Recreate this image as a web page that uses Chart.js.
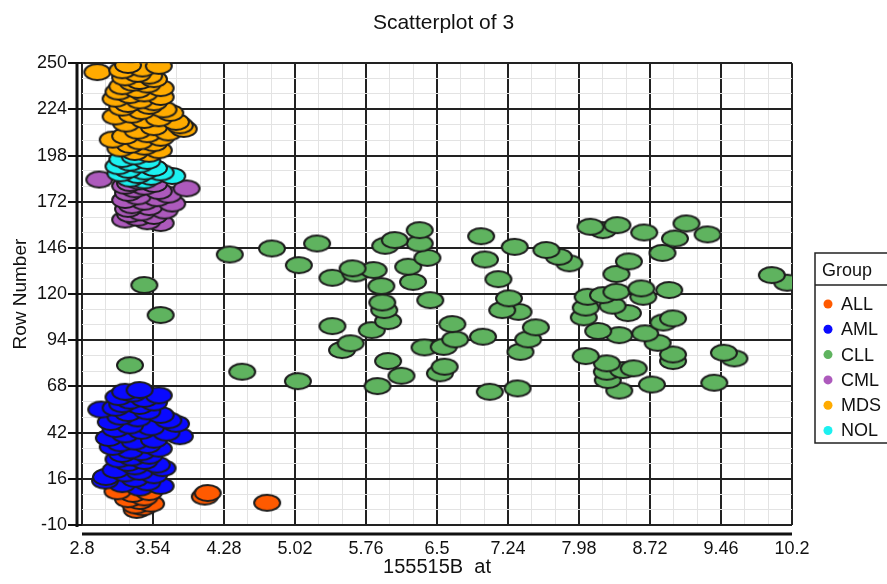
<!DOCTYPE html>
<html>
<head>
<meta charset="utf-8">
<script src="https://cdn.jsdelivr.net/npm/chart.js@4.4.1/dist/chart.umd.min.js"></script>
<style>
  body { margin: 0; background: #fff; }
  canvas { display: block; }
</style>
</head>
<body>
<canvas id="scatter" width="887" height="584"></canvas>
<script>
// axis ticks (major labels, minor lines are put in between)
const xTickLabels = ['2.8', '3.54', '4.28', '5.02', '5.76', '6.5', '7.24', '7.98', '8.72', '9.46', '10.2'];
const yTickLabels = ['-10', '16', '42', '68', '94', '120', '146', '172', '198', '224', '250'];

const groups = ['ALL', 'AML', 'CLL', 'CML', 'MDS', 'NOL'];

// ALL
const allX = [3.17, 3.50, 4.11, 3.33, 4.08, 3.45, 3.28, 3.40, 4.73, 3.52, 3.36, 3.44, 3.37];
const allY = [9, 8.5, 8, 7.5, 6, 5.5, 4.5, 3.5, 2.5, 2, 1, 0, -1.5];

// AML
const amlX = [3.40, 3.25, 3.33, 3.60, 3.18, 3.45, 3.30, 3.55, 3.22, 3.40, 3.15, 3.00, 3.48, 3.28, 3.62, 3.20,
  3.38, 3.70, 3.10, 3.78, 3.30, 3.52, 3.15, 3.42, 3.68, 3.25, 3.82, 3.08, 3.55, 3.35, 3.20, 3.48, 3.12, 3.60,
  3.30, 3.42, 3.22, 3.50, 3.32, 3.18, 3.45, 3.28, 3.58, 3.35, 3.64, 3.15, 3.40, 3.25, 3.55, 3.05, 3.35, 3.04,
  3.48, 3.22, 3.62, 3.40];
const amlY = [66, 65, 64, 63, 62, 61, 60, 59, 58, 57, 56, 55, 54, 53, 52, 51,
  50, 49, 48, 47, 46, 45, 44, 43, 42, 41, 40, 39, 38, 37, 36, 35, 34, 33,
  32, 31, 30, 29, 28, 27, 26, 25, 24, 23, 22, 21, 20, 19, 18, 17, 16, 15,
  14, 13, 12, 11];

// CLL
const cllX = [3.45, 3.62, 3.30, 4.34, 4.78, 5.25, 5.06, 5.41, 5.62, 5.65, 5.84, 5.92, 5.93, 5.95, 5.99, 5.82,
  5.41, 5.60, 5.51, 5.99, 6.13, 5.88, 4.47, 5.05, 5.96, 6.06, 6.32, 6.32, 6.20, 6.25, 6.40, 6.43,
  6.37, 6.96, 7.31, 7.00, 7.14, 7.25, 7.18, 7.35, 6.66, 7.53, 7.45, 7.37, 6.98, 6.69, 6.57, 6.58,
  6.53, 7.05, 7.34, 7.64, 7.77, 7.88, 8.10, 8.23, 8.38, 8.50, 8.37, 8.07, 8.05, 8.03, 8.23, 8.37,
  8.33, 8.49, 8.18, 8.40, 8.05, 8.27, 8.27, 8.28, 8.44, 8.40, 8.66, 9.10, 8.98, 9.32, 8.85, 8.63,
  8.65, 8.92, 8.96, 8.86, 8.67, 8.80, 8.96, 8.96, 9.49, 9.60, 8.55, 8.74, 9.39, 9.99, 10.15];
const cllY = [125.1, 108.2, 80.0, 142.3, 145.7, 148.5, 136.3, 129.2, 134.5, 131.6, 133.5, 124.5, 115.3, 111.0, 104.8, 99.7,
  102.0, 92.3, 88.5, 82.3, 74.0, 68.2, 76.3, 71.0, 147.2, 150.4, 156.0, 148.5, 135.4, 126.9, 140.4, 116.6,
  90.0, 152.6, 146.6, 139.5, 128.4, 117.6, 111.0, 110.0, 103.1, 101.3, 94.5, 87.5, 96.0, 94.5, 90.3, 79.1,
  75.4, 65.0, 66.9, 144.8, 141.0, 137.3, 157.9, 156.0, 158.8, 138.4, 131.3, 118.5, 112.4, 106.9, 119.4, 121.3,
  113.5, 109.3, 99.2, 96.9, 85.1, 81.0, 76.3, 71.6, 77.2, 65.7, 154.7, 159.8, 151.3, 153.6, 143.2, 123.2,
  118.5, 122.3, 106.3, 104.0, 97.9, 92.6, 86.0, 82.3, 87.0, 83.8, 78.2, 69.1, 70.1, 130.7, 126.4];

// CML
const cmlX = [2.98, 3.40, 3.30, 3.55, 3.25, 3.45, 3.89, 3.35, 3.60, 3.28, 3.70, 3.38, 3.58, 3.25, 3.45, 3.74,
  3.32, 3.50, 3.28, 3.66, 3.42, 3.30, 3.55, 3.38, 3.25, 3.48, 3.62];
const cmlY = [184.5, 183.5, 182.5, 182, 181, 180.5, 179.5, 179, 178, 177, 176, 175, 174, 173, 172, 171,
  170, 169, 168, 167, 166, 165, 164, 163, 162, 161, 160];

// MDS
const mdsX = [3.28, 3.60, 2.96, 3.43, 3.22, 3.38, 3.50, 3.25, 3.55, 3.40, 3.33, 3.48, 3.22, 3.62, 3.38, 3.18,
  3.45, 3.30, 3.62, 3.15, 3.40, 3.55, 3.28, 3.50, 3.22, 3.65, 3.42, 3.72, 3.32, 3.15, 3.60, 3.45,
  3.78, 3.26, 3.82, 3.55, 3.86, 3.38, 3.70, 3.48, 3.25, 3.62, 3.12, 3.40, 3.55, 3.30, 3.45, 3.20,
  3.60, 3.35, 3.50];
const mdsY = [249, 248.5, 245, 247, 246, 244, 243, 242, 241, 240, 239, 238, 237, 236, 235, 234,
  233, 232, 231, 230, 229, 228, 227, 226, 225, 224, 223, 222, 221, 220, 219, 218,
  217, 216, 215, 214, 213, 212, 211, 210, 209, 208, 207, 206, 205, 204, 203, 202,
  201, 200, 199];

// NOL
const nolX = [3.35, 3.22, 3.48, 3.30, 3.40, 3.18, 3.55, 3.28, 3.45, 3.62, 3.20, 3.38, 3.74, 3.52, 3.30, 3.45];
const nolY = [197.5, 196, 195, 194, 193, 192, 191, 190, 189, 188.5, 188, 187, 186.5, 186, 185, 184];

const groupX = [allX, amlX, cllX, cmlX, mdsX, nolX];
const groupY = [allY, amlY, cllY, cmlY, mdsY, nolY];
const groupColors = ['#ff5a00', '#0a0aff', '#5fb35f', '#ad5abc', '#ffab00', '#1cf0f0'];
// lower rows are painted first, so MDS ends up on top
const drawOrder = [5, 4, 3, 2, 0, 1];

function ellipseMarker(fill) {
    const c = document.createElement('canvas');
    c.width = 30;
    c.height = 20;
    const g = c.getContext('2d');
    g.beginPath();
    g.ellipse(15, 10, 13, 8, 0, 0, Math.PI * 2);
    g.fillStyle = fill;
    g.fill();
    g.lineWidth = 2;
    g.strokeStyle = '#1c1c1c';
    g.stroke();
    return c;
}

function withMinor(labels) {
    const ticks = [];
    labels.forEach((lab, i) => {
        const v = parseFloat(lab);
        ticks.push({ value: v, text: lab, isMajor: true });
        if (i < labels.length - 1) {
            const step = (parseFloat(labels[i + 1]) - v) / 3;
            ticks.push({ value: v + step, text: '', isMajor: false });
            ticks.push({ value: v + 2 * step, text: '', isMajor: false });
        }
    });
    return ticks;
}

const datasets = groups.map((name, i) => {
    const pts = groupX[i].map((x, k) => ({ x: x, y: groupY[i][k] }));
    pts.sort((a, b) => a.y - b.y);
    return {
        label: name,
        data: pts,
        order: drawOrder[i],
        pointStyle: ellipseMarker(groupColors[i]),
        pointRadius: 10,
        pointHoverRadius: 10,
        backgroundColor: groupColors[i],
        borderColor: '#1c1c1c'
    };
});

const gridColor = ctx => (ctx.tick && ctx.tick.isMajor) ? '#222' : '#e3e3e3';
const gridWidth = ctx => (ctx.tick && ctx.tick.isMajor) ? 2 : 1;

// offset axis lines and the boxed legend on the right
const frame = {
    id: 'frame',
    beforeDatasetsDraw(chart) {
        const { ctx, chartArea: a } = chart;
        ctx.save();
        ctx.strokeStyle = '#111';
        ctx.lineWidth = 3;
        ctx.beginPath();
        ctx.moveTo(a.left - 5, a.top - 1);
        ctx.lineTo(a.left - 5, a.bottom + 2);
        ctx.moveTo(a.left, a.bottom + 9);
        ctx.lineTo(a.right, a.bottom + 9);
        ctx.stroke();
        ctx.restore();
    },
    afterDraw(chart) {
        const ctx = chart.ctx;
        const left = 815, top = 253, bottom = 443;
        ctx.save();
        ctx.strokeStyle = '#222';
        ctx.lineWidth = 1.5;
        ctx.strokeRect(left, top, 100, bottom - top);
        ctx.beginPath();
        ctx.moveTo(left, 285);
        ctx.lineTo(chart.width, 285);
        ctx.stroke();
        ctx.font = '18px "Liberation Sans", Arial, sans-serif';
        ctx.fillStyle = '#111';
        ctx.textBaseline = 'middle';
        ctx.fillText('Group', 822, 271);
        chart.data.datasets.forEach((ds, i) => {
            const y = 304 + i * 25.3;
            ctx.beginPath();
            ctx.arc(828, y, 4.5, 0, Math.PI * 2);
            ctx.fillStyle = ds.backgroundColor;
            ctx.fill();
            ctx.fillStyle = '#111';
            ctx.fillText(ds.label, 841, y + 1);
        });
        ctx.restore();
    }
};

new Chart(document.getElementById('scatter'), {
    type: 'scatter',
    data: { datasets: datasets },
    plugins: [frame],
    options: {
        responsive: false,
        animation: false,
        layout: { padding: 0 },
        plugins: {
            legend: { display: false },
            tooltip: { enabled: false },
            title: {
                display: true,
                text: 'Scatterplot of 3',
                color: '#111',
                font: { family: '"Liberation Sans", Arial, sans-serif', size: 21, weight: 'normal' },
                padding: { top: 11, bottom: 27 }
            }
        },
        scales: {
            x: {
                type: 'linear',
                min: 2.8,
                max: 10.2,
                afterBuildTicks: scale => { scale.ticks = withMinor(xTickLabels); },
                afterFit: scale => { scale.height = 59; },
                border: { display: false },
                grid: { color: gridColor, lineWidth: gridWidth, drawTicks: false },
                ticks: {
                    autoSkip: false,
                    maxRotation: 0,
                    padding: 13,
                    color: '#111',
                    font: { family: '"Liberation Sans", Arial, sans-serif', size: 18 },
                    callback: (v, i, ticks) => ticks[i].text
                },
                title: {
                    display: true,
                    text: '155515B  at',
                    color: '#111',
                    font: { family: '"Liberation Sans", Arial, sans-serif', size: 20 },
                    padding: { top: 0, bottom: 5 }
                }
            },
            y: {
                type: 'linear',
                min: -10,
                max: 250,
                afterBuildTicks: scale => { scale.ticks = withMinor(yTickLabels); },
                afterFit: scale => { scale.width = 82; },
                border: { display: false },
                grid: {
                    color: gridColor,
                    lineWidth: gridWidth,
                    tickLength: 14,
                    tickColor: ctx => (ctx.tick && ctx.tick.isMajor) ? '#111' : 'rgba(0,0,0,0)'
                },
                ticks: {
                    autoSkip: false,
                    padding: 1,
                    color: '#111',
                    font: { family: '"Liberation Sans", Arial, sans-serif', size: 18 },
                    callback: (v, i, ticks) => ticks[i].text
                },
                title: {
                    display: true,
                    text: 'Row Number',
                    color: '#111',
                    font: { family: '"Liberation Sans", Arial, sans-serif', size: 19 },
                    padding: { top: 9, bottom: 0 }
                }
            },
            // empty right axis that only keeps room for the legend box
            side: {
                type: 'linear',
                position: 'right',
                min: 0,
                max: 1,
                afterFit: scale => { scale.width = 95; },
                border: { display: false },
                grid: { display: false },
                ticks: { display: false }
            }
        }
    }
});
</script>
</body>
</html>
